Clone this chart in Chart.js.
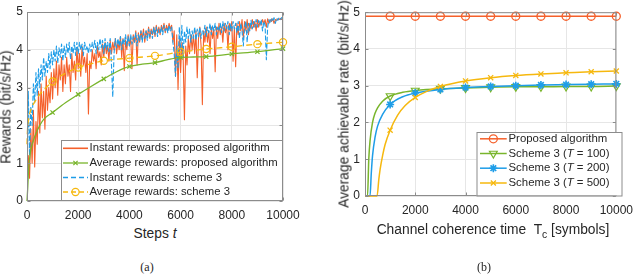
<!DOCTYPE html>
<html>
<head>
<meta charset="utf-8">
<script src="https://cdn.jsdelivr.net/npm/chart.js@4.4.1/dist/chart.umd.min.js"></script>
<style>
  body { margin: 0; width: 640px; height: 275px; overflow: hidden; position: relative; background: #fff;
         font-family: "Liberation Sans", Arial, sans-serif; color: #262626; }
  canvas { position: absolute; top: 0; }
  .lbl { position: absolute; white-space: nowrap; font-size: 13.8px; transform: translate(-50%, -50%); }
  .rot { transform: translate(-50%, -50%) rotate(-90deg); }
  .cap { position: absolute; white-space: nowrap; font-family: "Liberation Serif", "Times New Roman", serif;
         font-size: 12px; transform: translate(-50%, -50%); }
  sub { font-size: 75%; vertical-align: -4px; line-height: 0; }
</style>
</head>
<body>
<canvas id="chartA" width="310" height="225" style="left:0"></canvas>
<canvas id="chartB" width="310" height="225" style="left:330px"></canvas>

<div class="lbl rot" style="left:6px; top:107px">Rewards (bit/s/Hz)</div>
<div class="lbl" style="left:155px; top:233px">Steps <i>t</i></div>
<div class="cap" style="left:147px; top:267px">(a)</div>

<div class="lbl rot" style="left:344px; top:104px">Average achievable rate (bit/s/Hz)</div>
<div class="lbl" style="left:493px; top:229px">Channel coherence time&nbsp; T<sub>c</sub> [symbols]</div>
<div class="cap" style="left:484px; top:267px">(b)</div>

<script>
// ---- data, panel (a): instant rewards sampled every STEP steps
const STEP = 50;
const instProposed = [
  0.1, 1.2, 0.6, 1.9, 1.0, 2.4, 0.9, 2.1, 1.5, 2.9,
  1.8, 3.1, 2.2, 2.9, 1.9, 3.3, 2.4, 3.0, 2.6, 3.4,
  2.7, 3.5, 3.0, 3.7, 2.8, 3.6, 3.2, 3.8, 2.9, 3.6,
  3.1, 3.8, 3.3, 3.6, 2.9, 3.9, 3.4, 3.7, 3.2, 4.05,
  3.5, 3.9, 3.3, 4.1, 3.6, 3.8, 3.4, 3.9, 2.3, 3.7,
  3.5, 4.0, 3.7, 3.9, 3.5, 4.1, 3.8, 3.95, 3.6, 4.15,
  3.8, 4.2, 3.9, 4.1, 3.7, 4.25, 3.9, 4.2, 4.0, 4.3,
  3.9, 4.2, 4.0, 4.35, 3.8, 4.3, 3.45, 4.25, 4.0, 4.4,
  4.1, 4.35, 3.5, 4.4, 4.2, 4.5, 3.6, 4.45, 4.2, 4.5,
  4.3, 4.55, 4.2, 4.5, 4.35, 4.6, 4.3, 4.55, 4.4, 4.6,
  4.35, 4.65, 4.45, 4.6, 4.4, 4.65, 4.5, 4.7, 4.45, 4.65,
  4.5, 4.7, 4.55, 4.65, 4.2, 4.5, 3.3, 4.4, 2.95, 4.3,
  3.4, 4.2, 3.8, 2.15, 4.1, 3.6, 4.3, 3.9, 4.4, 4.0,
  4.4, 3.9, 4.5, 3.26, 4.3, 4.6, 4.1, 2.55, 4.5, 4.2,
  4.6, 4.2, 4.5, 3.9, 4.6, 4.3, 4.55, 3.42, 4.6, 4.3,
  4.7, 4.4, 4.6, 4.2, 4.7, 4.45, 4.65, 4.0, 4.7, 4.5,
  4.75, 3.7, 4.6, 3.55, 4.7, 4.4, 4.75, 4.5, 4.8, 4.3,
  4.75, 4.5, 4.8, 4.4, 4.7, 4.55, 4.8, 4.6, 4.75, 4.5,
  4.8, 4.6, 4.75, 4.65, 4.8, 4.7, 4.8, 4.6, 4.82, 4.7,
  4.8, 4.75, 4.82, 4.7, 4.8, 4.78, 4.82, 4.8, 4.83, 4.8,
  4.82
];
const instScheme3 = [
  0.2, 2.9, 1.2, 2.5, 2.0, 3.1, 2.6, 3.4, 2.8, 3.5,
  3.0, 3.6, 3.2, 3.8, 3.3, 3.7, 3.4, 3.9, 3.5, 3.95,
  3.6, 4.0, 3.7, 4.1, 3.65, 4.05, 3.8, 4.15, 3.7, 4.1,
  3.8, 4.15, 3.9, 4.2, 3.75, 4.1, 3.9, 4.2, 3.85, 4.2,
  3.9, 4.2, 4.0, 4.15, 3.85, 4.2, 4.0, 4.1, 3.9, 4.15,
  3.95, 4.2, 4.05, 4.25, 3.9, 4.2, 4.0, 4.3, 4.05, 4.25,
  3.9, 4.3, 4.0, 4.2, 3.95, 4.3, 3.6, 2.75, 3.9, 4.3,
  4.05, 4.3, 4.1, 4.35, 4.0, 4.3, 4.15, 4.4, 4.1, 4.35,
  4.1, 4.4, 4.15, 4.35, 4.2, 4.45, 4.1, 4.4, 4.25, 4.5,
  4.2, 4.45, 4.3, 4.5, 4.25, 4.55, 4.35, 4.5, 4.3, 4.6,
  4.4, 4.6, 4.35, 4.55, 4.45, 4.6, 4.4, 4.65, 4.5, 4.6,
  4.45, 4.65, 4.5, 4.6, 4.2, 3.9, 3.3, 4.1, 3.5, 4.6,
  4.0, 4.65, 3.8, 4.5, 4.2, 4.6, 4.3, 4.55, 4.2, 4.5,
  4.3, 4.6, 4.25, 4.55, 4.35, 4.6, 4.3, 4.5, 4.4, 4.65,
  4.35, 4.6, 4.45, 4.7, 4.4, 4.65, 4.5, 4.7, 4.4, 4.6,
  4.5, 4.7, 4.45, 4.75, 4.5, 4.7, 4.55, 4.75, 4.4, 4.7,
  4.5, 4.75, 4.55, 4.7, 4.45, 4.75, 4.3, 4.7, 4.5, 4.1,
  4.6, 4.75, 4.2, 4.7, 4.5, 4.78, 4.55, 4.75, 4.6, 4.8,
  4.6, 4.78, 4.65, 4.8, 4.5, 4.75, 4.65, 3.74, 4.6, 4.8,
  4.7, 4.82, 4.75, 4.85, 4.7, 4.83, 4.78, 4.85, 4.8, 4.85,
  4.83
];
const avgPropSteps = [0, 25, 60, 130, 250, 390, 650, 1000, 1500, 2000, 2500, 3000, 3500, 4000, 4500, 5000, 5500, 6000, 6500, 7000, 8000, 9000, 10000];
const avgPropVals  = [0, 0.3, 0.8, 1.28, 1.6, 1.85, 2.16, 2.34, 2.6, 2.82, 3.03, 3.23, 3.42, 3.56, 3.62, 3.66, 3.74, 3.8, 3.81, 3.82, 3.89, 3.95, 4.03];
const avgS3Steps = [0, 20, 50, 100, 200, 300, 500, 700, 1000, 1500, 2000, 2500, 3000, 4000, 5000, 6000, 7000, 8000, 9000, 10000];
const avgS3Vals  = [1.5, 1.9, 2.1, 2.3, 2.5, 2.62, 2.82, 2.97, 3.16, 3.38, 3.53, 3.63, 3.71, 3.78, 3.84, 3.94, 4.02, 4.08, 4.15, 4.2];

// ---- data, panel (b)
const tcProposed   = [0, 1000, 2000, 3000, 4000, 5000, 6000, 7000, 8000, 9000, 10000];
const rateProposed = [4.89, 4.89, 4.89, 4.89, 4.89, 4.89, 4.89, 4.89, 4.89, 4.89, 4.89];
const tcT100   = [0, 100, 150, 200, 300, 400, 500, 700, 1000, 1500, 2000, 3000, 4000, 5000, 6000, 7000, 8000, 9000, 10000];
const rateT100 = [0, 0, 1.0, 1.5, 2.0, 2.25, 2.4, 2.58, 2.72, 2.82, 2.87, 2.92, 2.94, 2.96, 2.97, 2.97, 2.98, 2.98, 2.99];
const tcT200   = [0, 200, 250, 300, 400, 500, 700, 1000, 1500, 2000, 3000, 4000, 5000, 6000, 7000, 8000, 9000, 10000];
const rateT200 = [0, 0, 0.62, 1.1, 1.6, 1.9, 2.22, 2.49, 2.70, 2.80, 2.90, 2.95, 2.98, 3.0, 3.02, 3.03, 3.04, 3.05];
const tcT500   = [0, 480, 550, 600, 700, 800, 1000, 1300, 1600, 2000, 2500, 3000, 4000, 5000, 6000, 7000, 8000, 9000, 10000];
const rateT500 = [0, 0, 0.45, 0.72, 1.1, 1.4, 1.79, 2.2, 2.46, 2.68, 2.86, 2.98, 3.13, 3.22, 3.28, 3.32, 3.35, 3.38, 3.40];

const xTicks = [0, 2000, 4000, 6000, 8000, 10000];
const yTicks = [0, 1, 2, 3, 4, 5];

const FONT = '"Liberation Sans", Arial, sans-serif';
const ORANGE = '#F5602B', GREEN = '#79B52C', BLUE = '#1E9DE8', YELLOW = '#F6B80E';
const AXIS = '#8c8c8c', GRID = '#e6e6e6', TEXT = '#262626';

const pts = (xs, ys) => ys.map((y, i) => ({ x: xs[i], y }));
const stepPts = ys => ys.map((y, i) => ({ x: i * STEP, y }));
const everyK = r => ctx => (ctx.raw && ctx.raw.x > 0 && ctx.raw.x % 1000 === 0) ? r : 0;

// axes box with inward ticks, drawn over the data
const boxPlugin = {
  id: 'axesBox',
  afterDatasetsDraw(chart) {
    const { ctx, chartArea: a, scales: { x, y } } = chart;
    const L = a.left + 0.5, R = a.right - 0.5, T = a.top + 0.5, B = a.bottom - 0.5;
    ctx.save();
    ctx.strokeStyle = AXIS;
    ctx.lineWidth = 1;
    ctx.strokeRect(L, T, R - L, B - T);
    ctx.beginPath();
    x.ticks.forEach(t => {
      const px = Math.round(x.getPixelForValue(t.value)) + 0.5;
      ctx.moveTo(px, B); ctx.lineTo(px, B - 3);
      ctx.moveTo(px, T); ctx.lineTo(px, T + 3);
    });
    y.ticks.forEach(t => {
      const py = Math.round(y.getPixelForValue(t.value)) + 0.5;
      ctx.moveTo(L, py); ctx.lineTo(L + 3, py);
      ctx.moveTo(R, py); ctx.lineTo(R - 3, py);
    });
    ctx.stroke();
    ctx.restore();
  }
};

// MATLAB-like legend box inside the axes
function makeLegend(cfg) {
  return {
    id: 'boxLegend',
    afterDraw(chart) {
      const ctx = chart.ctx;
      ctx.save();
      ctx.fillStyle = '#fff';
      ctx.fillRect(cfg.x, cfg.y, cfg.w, cfg.h);
      ctx.strokeStyle = AXIS;
      ctx.lineWidth = 1;
      ctx.strokeRect(cfg.x + 0.5, cfg.y + 0.5, cfg.w, cfg.h);
      cfg.items.forEach((it, i) => {
        const y = cfg.rows[i];
        ctx.strokeStyle = it.color;
        ctx.lineWidth = it.width;
        ctx.setLineDash(it.dash || []);
        ctx.beginPath();
        ctx.moveTo(cfg.lx0, y);
        ctx.lineTo(cfg.lx1, y);
        ctx.stroke();
        ctx.setLineDash([]);
        if (it.marker) {
          ctx.fillStyle = it.marker.fill || 'rgba(0,0,0,0)';
          ctx.lineWidth = it.marker.bw;
          Chart.helpers.drawPoint(ctx, {
            pointStyle: it.marker.style, radius: it.marker.r,
            rotation: it.marker.rot || 0, borderWidth: it.marker.bw
          }, (cfg.lx0 + cfg.lx1) / 2, y);
        }
        let x = cfg.tx;
        ctx.fillStyle = TEXT;
        ctx.textBaseline = 'middle';
        it.text.forEach(seg => {
          ctx.font = (seg.i ? 'italic ' : '') + cfg.size + 'px ' + FONT;
          ctx.fillText(seg.t, x, y);
          x += ctx.measureText(seg.t).width;
        });
      });
      ctx.restore();
    }
  };
}

function scalesFor(yWidth, xHeight, yPad) {
  const tickFont = { family: FONT, size: 12 };
  return {
    x: {
      type: 'linear', min: 0, max: 10000,
      afterBuildTicks: s => { s.ticks = xTicks.map(v => ({ value: v })); },
      afterFit: s => { s.height = xHeight; },
      grid: { color: GRID, drawTicks: false },
      border: { display: false },
      ticks: { color: TEXT, font: tickFont, padding: 7, maxRotation: 0, autoSkip: false, callback: v => String(v) }
    },
    y: {
      type: 'linear', min: 0, max: 5,
      afterBuildTicks: s => { s.ticks = yTicks.map(v => ({ value: v })); },
      afterFit: s => { s.width = yWidth; },
      grid: { color: GRID, drawTicks: false },
      border: { display: false },
      ticks: { color: TEXT, font: tickFont, padding: yPad, callback: v => String(v) }
    }
  };
}

const common = {
  responsive: false,
  animation: false,
  events: [],
  plugins: { legend: { display: false }, tooltip: { enabled: false } },
  elements: { line: { borderJoinStyle: 'round' } }
};

// ---- panel (a)
new Chart(document.getElementById('chartA'), {
  type: 'line',
  data: {
    datasets: [
      { data: pts(avgS3Steps, avgS3Vals), borderColor: YELLOW, borderWidth: 1.3, borderDash: [6, 4],
        cubicInterpolationMode: 'monotone', clip: false,
        pointStyle: 'circle', pointRadius: everyK(3.6), pointBorderWidth: 1.2,
        pointBorderColor: YELLOW, pointBackgroundColor: 'rgba(0,0,0,0)' },
      { data: pts(avgPropSteps, avgPropVals), borderColor: GREEN, borderWidth: 1.3,
        cubicInterpolationMode: 'monotone', clip: false,
        pointStyle: 'crossRot', pointRadius: everyK(3), pointBorderWidth: 1.2,
        pointBorderColor: GREEN },
      { data: stepPts(instScheme3), borderColor: BLUE, borderWidth: 1.1, borderDash: [5, 2],
        pointRadius: 0, tension: 0 },
      { data: stepPts(instProposed), borderColor: ORANGE, borderWidth: 1.1,
        pointRadius: 0, tension: 0 }
    ]
  },
  options: Object.assign({}, common, {
    layout: { padding: { left: 0, top: 12, right: 27, bottom: 0 } },
    scales: scalesFor(27, 24, 4)
  }),
  plugins: [boxPlugin, makeLegend({
    x: 61, y: 140, w: 221, h: 60, lx0: 63, lx1: 88, tx: 89.5, size: 11.3,
    rows: [148.3, 163, 177.5, 192],
    items: [
      { color: ORANGE, width: 1.6, text: [{ t: 'Instant rewards: proposed algorithm' }] },
      { color: GREEN, width: 1.3, marker: { style: 'crossRot', r: 3, bw: 1.2 },
        text: [{ t: 'Average rewards: proposed algorithm' }] },
      { color: BLUE, width: 1.6, dash: [5, 3], text: [{ t: 'Instant rewards: scheme 3' }] },
      { color: YELLOW, width: 1.3, dash: [5, 3], marker: { style: 'circle', r: 3.6, bw: 1.2 },
        text: [{ t: 'Average rewards: scheme 3' }] }
    ]
  })]
});

// ---- panel (b)
new Chart(document.getElementById('chartB'), {
  type: 'line',
  data: {
    datasets: [
      { data: pts(tcT500, rateT500), borderColor: YELLOW, borderWidth: 1.5,
        cubicInterpolationMode: 'monotone', clip: false,
        pointStyle: 'crossRot', pointRadius: everyK(3.6), pointBorderWidth: 1.3, pointBorderColor: YELLOW },
      { data: pts(tcT200, rateT200), borderColor: BLUE, borderWidth: 1.5,
        cubicInterpolationMode: 'monotone', clip: false,
        pointStyle: 'star', pointRadius: everyK(4), pointBorderWidth: 1.6, pointBorderColor: BLUE },
      { data: pts(tcT100, rateT100), borderColor: GREEN, borderWidth: 1.5,
        cubicInterpolationMode: 'monotone', clip: false,
        pointStyle: 'triangle', pointRotation: 180, pointRadius: everyK(4.5), pointBorderWidth: 1.2,
        pointBorderColor: GREEN, pointBackgroundColor: 'rgba(0,0,0,0)' },
      { data: pts(tcProposed, rateProposed), borderColor: ORANGE, borderWidth: 1.5, clip: false,
        pointStyle: 'circle', pointRadius: everyK(4), pointBorderWidth: 1.3,
        pointBorderColor: ORANGE, pointBackgroundColor: 'rgba(0,0,0,0)' }
    ]
  },
  options: Object.assign({}, common, {
    layout: { padding: { left: 0, top: 12, right: 18, bottom: 0 } },
    scales: scalesFor(35, 29, 5)
  }),
  plugins: [boxPlugin, makeLegend({
    x: 146.5, y: 132, w: 145, h: 63.5, lx0: 150, lx1: 176.7, tx: 178.5, size: 11.4,
    rows: [138.8, 153.5, 168.2, 183],
    items: [
      { color: ORANGE, width: 1.5, marker: { style: 'circle', r: 4, bw: 1.3 },
        text: [{ t: 'Proposed algorithm' }] },
      { color: GREEN, width: 1.5, marker: { style: 'triangle', r: 4.5, rot: 180, bw: 1.2 },
        text: [{ t: 'Scheme 3 (' }, { t: 'T', i: true }, { t: ' = 100)' }] },
      { color: BLUE, width: 1.5, marker: { style: 'star', r: 4, bw: 1.6 },
        text: [{ t: 'Scheme 3 (' }, { t: 'T', i: true }, { t: ' = 200)' }] },
      { color: YELLOW, width: 1.5, marker: { style: 'crossRot', r: 3.6, bw: 1.3 },
        text: [{ t: 'Scheme 3 (' }, { t: 'T', i: true }, { t: ' = 500)' }] }
    ]
  })]
});
</script>
</body>
</html>
